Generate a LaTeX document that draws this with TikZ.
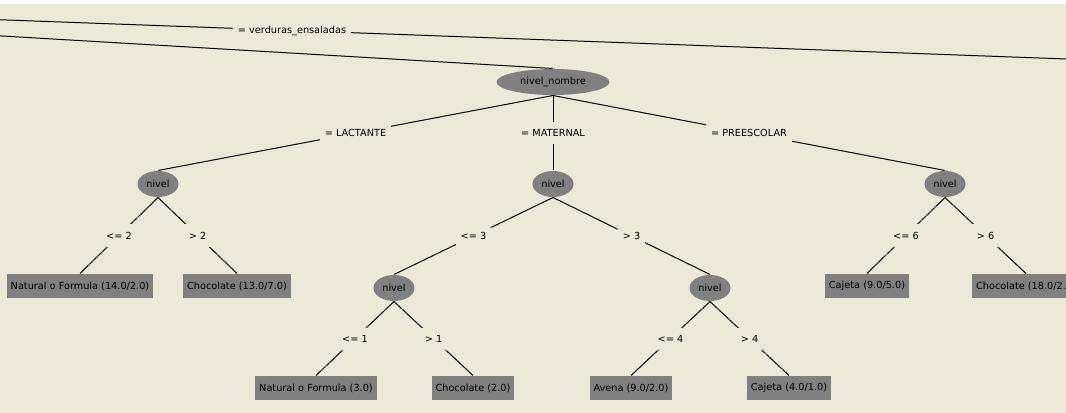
\documentclass[tikz,border=0pt]{standalone}
\usepackage{fontspec}
\newfontfamily\wekafont{DejaVu Sans}
\usetikzlibrary{shapes.geometric}
\definecolor{panel}{HTML}{ECE9D8}
\definecolor{nodegray}{HTML}{808080}

\begin{document}
\begin{tikzpicture}[x=0.75pt, y=-0.75pt, line width=0.75pt,
        every node/.style={font=\wekafont\fontsize{7.3}{8.8}\selectfont},
        attr/.style={ellipse, fill=nodegray, inner sep=0pt, minimum height=19.5pt},
        leaf/.style={rectangle, fill=nodegray, inner xsep=3pt, minimum height=18pt},
        cond/.style={fill=panel, inner xsep=3.5pt, minimum height=16.5pt}]
            \useasboundingbox (0,0) rectangle (1066,413);
            \clip (0,0) rectangle (1066,413);
            \fill[panel] (0,0) rectangle (1066,413);
            \fill[white] (0,0) rectangle (1066,4);

            % Nodes
            \coordinate (root) at (-727,-7);
            \coordinate (veg) at (1311,68);
            \node[attr, minimum width=84.75pt] (nn) at (553,82) {nivel\_nombre};
            \node[attr, minimum width=30.75pt] (n1) at (158,184) {nivel};
            \node[attr, minimum width=30.75pt] (n2) at (553,184) {nivel};
            \node[attr, minimum width=30.75pt] (n3) at (945,184) {nivel};
            \node[attr, minimum width=30.75pt] (n21) at (394,288) {nivel};
            \node[attr, minimum width=30.75pt] (n22) at (710,288) {nivel};

            \node[leaf] (l1) at (80,286) {Natural o Formula (14.0/2.0)};
            \node[leaf] (l2) at (237,286) {Chocolate (13.0/7.0)};
            \node[leaf] (l3) at (867,286) {Cajeta (9.0/5.0)};
            \node[leaf] (l4) at (1026,286) {Chocolate (18.0/2.0)};
            \node[leaf] (l5) at (316,388) {Natural o Formula (3.0)};
            \node[leaf] (l6) at (473,388) {Chocolate (2.0)};
            \node[leaf] (l7) at (631,388) {Avena (9.0/2.0)};
            \node[leaf] (l8) at (789,388) {Cajeta (4.0/1.0)};

            % Edges
            \draw (root) -- node[cond] (c0) {= verduras\_ensaladas} (veg);
            \draw (root) -- (nn.north);
            \draw (nn.south) -- node[cond] (c1) {= LACTANTE} (n1.north);
            \draw (nn.south) -- node[cond] (c2) {= MATERNAL} (n2.north);
            \draw (nn.south) -- node[cond] (c3) {= PREESCOLAR} (n3.north);
            \draw (n1.south) -- node[cond] (c4) {<= 2} (l1.north);
            \draw (n1.south) -- node[cond] (c5) {> 2} (l2.north);
            \draw (n2.south) -- node[cond] (c6) {<= 3} (n21.north);
            \draw (n2.south) -- node[cond] (c7) {> 3} (n22.north);
            \draw (n3.south) -- node[cond] (c8) {<= 6} (l3.north);
            \draw (n3.south) -- node[cond] (c9) {> 6} (l4.north);
            \draw (n21.south) -- node[cond] (c10) {<= 1} (l5.north);
            \draw (n21.south) -- node[cond] (c11) {> 1} (l6.north);
            \draw (n22.south) -- node[cond] (c12) {<= 4} (l7.north);
            \draw (n22.south) -- node[cond] (c13) {> 4} (l8.north);
        \end{tikzpicture}
\end{document}
